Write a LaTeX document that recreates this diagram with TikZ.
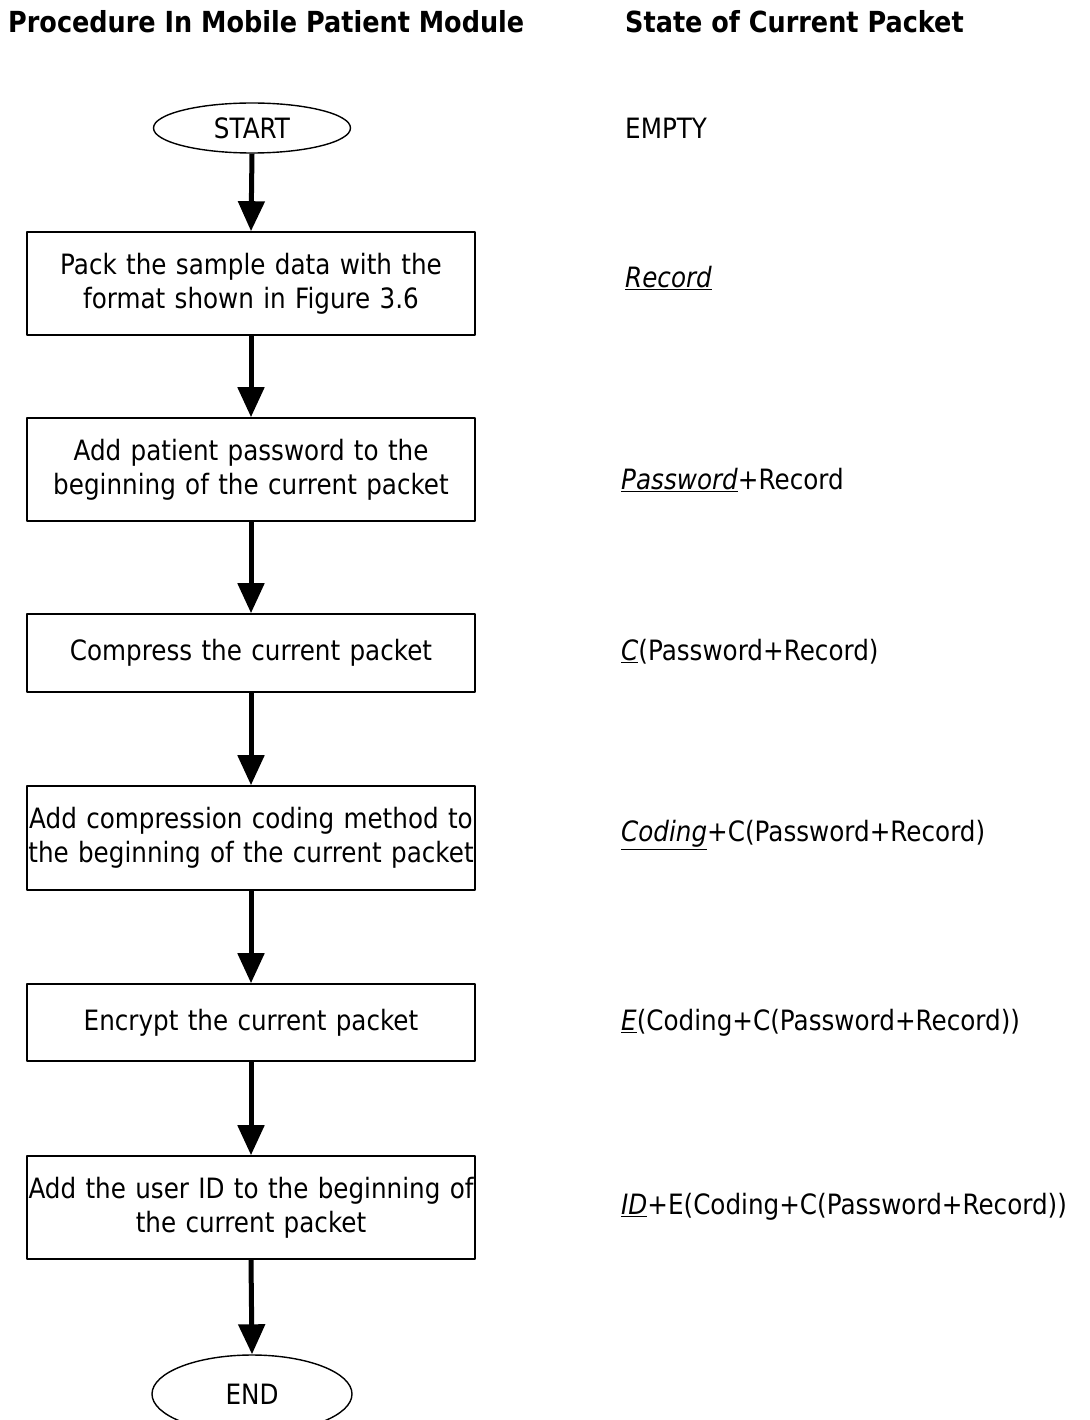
\documentclass[tikz,border=0pt]{standalone}
\usepackage{fontspec}
\setmainfont{DejaVu Sans}[FakeStretch=0.88]
\usetikzlibrary{arrows.meta,shapes.geometric}
\begin{document}
\begin{tikzpicture}[x=1pt,y=-1pt,line join=round,
	font=\fontsize{28}{34}\selectfont,
	stepbox/.style={rectangle,draw,line width=1.6pt,minimum width=448pt,
		text width=446pt,align=center,inner sep=0pt},
	termbox/.style={ellipse,draw,line width=1.4pt,inner sep=0pt},
	state/.style={anchor=west,inner sep=0pt},
	flow/.style={-{Triangle[width=26pt,length=30pt]},line width=5pt}]
	\useasboundingbox (0,0) rectangle (1089,1420);
	\clip (0,0) rectangle (1089,1420);
	% titles
	\path (8,22)node[anchor=west,inner sep=0pt,font=\fontsize{29}{30}\selectfont\bfseries](t1){Procedure In Mobile Patient Module}
	(625,22)node[anchor=west,inner sep=0pt,font=\fontsize{29}{30}\selectfont\bfseries](t2){State of Current Packet};
	% procedure
	\path (252,128)node[termbox,minimum width=197pt,minimum height=50pt](start){START}
	(251,283.5)node[stepbox,minimum height=103pt](b1){Pack the sample data with the\\format shown in Figure 3.6}
	(251,469.5)node[stepbox,minimum height=103pt](b2){Add patient password to the\\beginning of the current packet}
	(251,653)node[stepbox,minimum height=78pt](b3){Compress the current packet}
	(251,838)node[stepbox,minimum height=104pt](b4){Add compression coding method to\\the beginning of the current packet}
	(251,1022.5)node[stepbox,minimum height=77pt](b5){Encrypt the current packet}
	(251,1207.5)node[stepbox,minimum height=103pt](b6){Add the user ID to the beginning of\\the current packet}
	(252,1394)node[termbox,minimum width=200pt,minimum height=78pt](end){END};
	% packet states
	\path (625,128)node[state](s0){EMPTY}
	(625,278)node[state](s1){\underline{\textit{Record}}}
	(621,480)node[state](s2){\underline{\textit{Password}}+Record}
	(621,652)node[state](s3){\underline{\textit{C}}(Password+Record)}
	(621,835)node[state](s4){\underline{\textit{Coding}}+C(Password+Record)}
	(621,1023)node[state](s5){\underline{\textit{E}}(Coding+C(Password+Record))}
	(621,1207)node[state](s6){\underline{\textit{ID}}+E(Coding+C(Password+Record))};
	% arrows
	\draw[flow](start.south)--(b1.north);
	\draw[flow](b1.south)--(b2.north);
	\draw[flow](b2.south)--(b3.north);
	\draw[flow](b3.south)--(b4.north);
	\draw[flow](b4.south)--(b5.north);
	\draw[flow](b5.south)--(b6.north);
	\draw[flow](b6.south)--(end.north);
\end{tikzpicture}
\end{document}
